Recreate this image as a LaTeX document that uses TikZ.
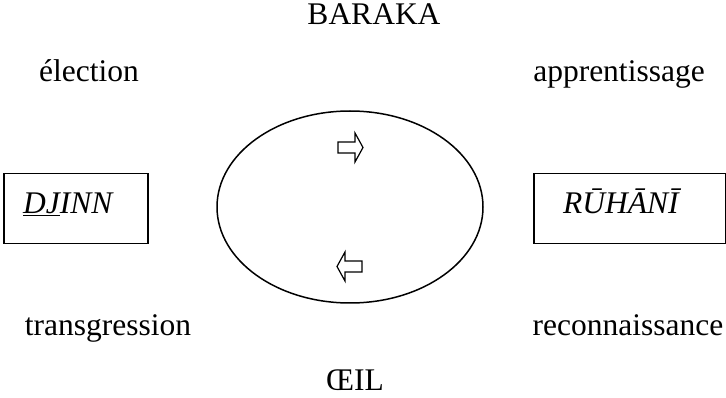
\documentclass[tikz,border=0pt]{standalone}
\usepackage{fontspec}
\setmainfont{Liberation Serif}
\tikzset{
    word/.style={font=\fontsize{31.5}{36}\selectfont, inner sep=0pt, anchor=base},
    frame/.style={draw, line width=1.5pt, minimum width=#1, minimum height=70pt, inner sep=0pt, anchor=north west},
    hollow/.style={draw, line width=1.2pt, fill=white, line join=miter}
}
\begin{document}
\begin{tikzpicture}[x=1pt, y=-1pt]
    \useasboundingbox (0,0) rectangle (726,398);

    % words round the circle
    \node[word] (baraka) at (374,25) {BARAKA};
    \node[word] (election) at (89,82) {élection};
    \node[word] (apprent) at (619,82) {apprentissage};
    \node[word] (transg) at (108,335) {transgression};
    \node[word] (reconn) at (628,335) {reconnaissance};
    \node[word] (oeil) at (355,390) {ŒIL};

    % the two boxes, text sits left of centre
    \node[frame=144pt] (djinnbox) at (3,173) {};
    \node[frame=192pt] (ruhanibox) at (533,173) {};
    \node[word, anchor=base west] (djinn) at ([xshift=20pt, yshift=-5pt]djinnbox.west) {\itshape\underline{DJ}INN};
    \node[word, anchor=base west] (ruhani) at ([xshift=30pt, yshift=-5pt]ruhanibox.west) {\itshape RŪHĀNĪ};

    % the cycle
    \draw[line width=1.5pt] (350,207) ellipse (133pt and 96pt);
    \foreach \ypos/\dir in {147.5/1, 266.5/-1}
        \draw[hollow, shift={(350,\ypos)}, xscale=\dir]
            (-12,-5.5) -- (5,-5.5) -- (5,-14.5) -- (13,0) -- (5,14.5) -- (5,5.5) -- (-12,5.5) -- cycle;

\end{tikzpicture}
\end{document}
